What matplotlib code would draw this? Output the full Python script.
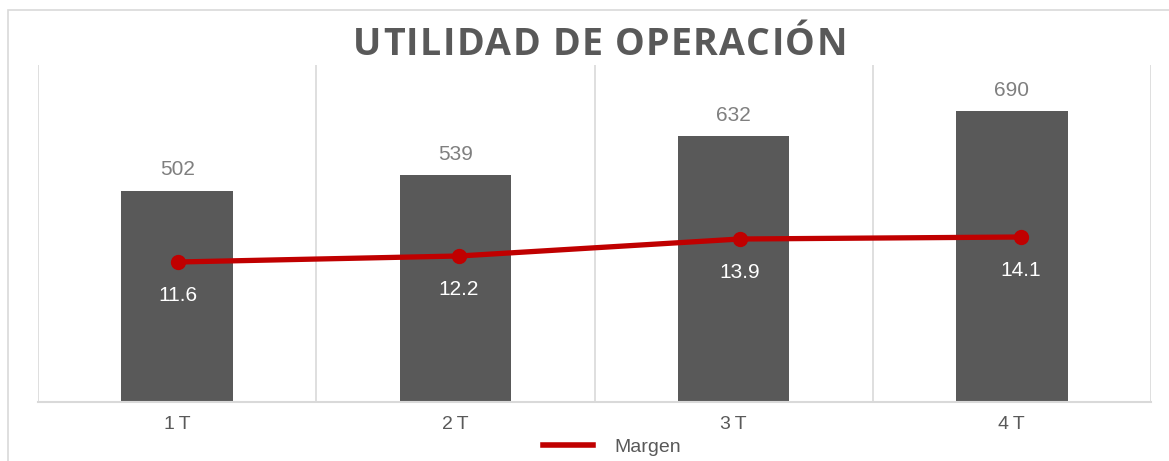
import matplotlib
matplotlib.use("Agg")
import matplotlib.pyplot as plt
from matplotlib.patches import Rectangle
from matplotlib.lines import Line2D

categories = ["1\u2009T", "2\u2009T", "3\u2009T", "4\u2009T"]
utilidad = [502, 539, 632, 690]
margen = [11.6, 12.2, 13.9, 14.1]
title = "UTILIDAD DE OPERACIÓN"
legend_label = "Margen"

GREY = "#595959"
RED = "#C00000"
GRID = "#D9D9D9"

W, H = 1169, 461
fig = plt.figure(figsize=(W / 100, H / 100), dpi=100)
fig.patch.set_facecolor("white")

# outer chart frame
fig.patches.append(Rectangle((8 / W, -0.1), 1.2, 1 - 10 / H + 0.1, transform=fig.transFigure,
                             fill=False, edgecolor=GRID, linewidth=1.2))

ax = fig.add_axes([38 / W, 1 - 402 / H, (1151 - 38) / W, (402 - 65) / H])
x = list(range(len(categories)))
ax.bar(x, utilidad, width=0.4, color=GREY, zorder=2)
ax.set_xlim(-0.5, len(categories) - 0.5)
ax.set_ylim(0, 800)
for b in [i - 0.5 for i in range(len(categories) + 1)]:
    ax.axvline(b, color=GRID, linewidth=1.2, zorder=0)
for s in ["top", "left", "right"]:
    ax.spines[s].set_visible(False)
ax.spines["bottom"].set_color(GRID)
ax.spines["bottom"].set_linewidth(1.5)
ax.set_yticks([])
ax.set_xticks(x)
ax.set_xticklabels(categories, family=["Liberation Sans", "DejaVu Sans"], fontsize=14, color=GREY)
ax.tick_params(axis="x", length=0, pad=10)
for xi, v in zip(x, utilidad):
    ax.annotate(f"{v}", (xi, v), xytext=(0, 8), textcoords="offset points",
                ha="center", va="bottom", fontsize=15, color="#7F7F7F", family="Liberation Sans")

# line series sits on its own (slightly wider-spaced) category axis
ax2 = fig.add_axes(ax.get_position(), frameon=False, sharey=None)
ax2.patch.set_visible(False)
ax2.set_xlim(-0.498, 3.463)
ax2.set_ylim(-2.4, 31.3)
ax2.plot(x, margen, color=RED, linewidth=3.8, marker="o", markersize=10, zorder=3,
         solid_capstyle="round", label=legend_label)
ax2.set_xticks([])
ax2.set_yticks([])
for xi, v in zip(x, margen):
    ax2.annotate(f"{v}", (xi, v), xytext=(0, -24), textcoords="offset points",
                 ha="center", va="center", fontsize=15, color="white", family="Liberation Sans")

handle = Line2D([], [], color=RED, linewidth=4)
fig.legend([handle], [legend_label], loc="center", bbox_to_anchor=(612 / W, 1 - 447 / H),
           frameon=False, handlelength=2.6, handletextpad=1.1,
           prop={"family": "Liberation Sans", "size": 14}, labelcolor=GREY)

# title with letter tracking
renderer = fig.canvas.get_renderer()
track = 1.3  # px between letters
fsize = 27
widths = []
for ch in title:
    t = fig.text(0, 0, ch if ch != " " else "\u00a0", fontsize=fsize, fontweight="bold",
                 family=["Open Sans", "DejaVu Sans"])
    widths.append(t.get_window_extent(renderer).width)
    t.remove()
total = sum(widths) + track * (len(title) - 1)
xpos = 600 - total / 2
ybase = 1 - 55 / H
for ch, w in zip(title, widths):
    fig.text(xpos / W, ybase, ch, fontsize=fsize, fontweight="bold",
             family=["Open Sans", "DejaVu Sans"], color=GREY, ha="left", va="baseline")
    xpos += w + track

fig.savefig("out.png", dpi=100, facecolor="white")
